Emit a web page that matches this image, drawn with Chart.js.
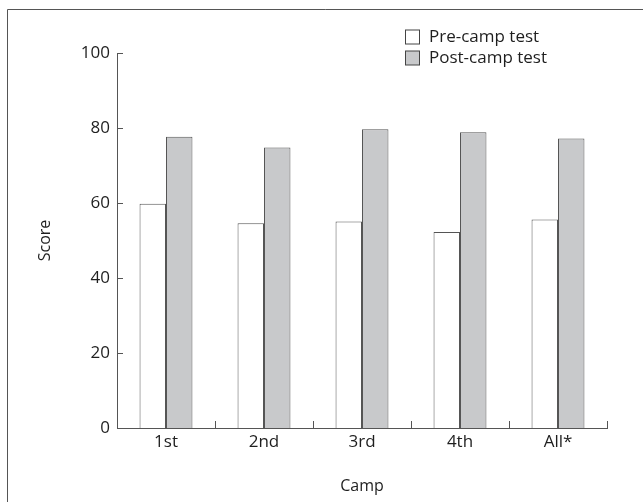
<!DOCTYPE html>
<html>
<head>
<meta charset="utf-8">
<script src="https://cdn.jsdelivr.net/npm/chart.js@4"></script>
<style>
  html, body { margin: 0; padding: 0; background: #fff; }
  #wrap { width: 643px; height: 502px; position: relative; }
</style>
</head>
<body>
<div id="wrap"><canvas id="chart"></canvas></div>
<script>
const camps = ['1st', '2nd', '3rd', '4th', 'All*'];
const preCamp = [59.8, 54.6, 55.1, 52.3, 55.6];
const postCamp = [77.7, 74.8, 79.7, 78.9, 77.2];
const yTicks = [0, 20, 40, 60, 80, 100];

const FONT = '"Open Sans", "Noto Sans", sans-serif';
const TEXT = '#1e1e1e';
const AXIS = '#555';

// frame, inward tick marks and the legend
const extras = {
  id: 'extras',
  afterDraw(chart) {
    const ctx = chart.ctx;
    const x = chart.scales.x, y = chart.scales.y;
    ctx.save();
    ctx.strokeStyle = AXIS;
    ctx.lineWidth = 1;

    // frame (left and top)
    ctx.beginPath();
    ctx.moveTo(7.5, chart.height);
    ctx.lineTo(7.5, 9.5);
    ctx.lineTo(chart.width, 9.5);
    ctx.stroke();

    // y ticks pointing inward
    ctx.beginPath();
    yTicks.forEach(v => {
      const py = Math.round(y.getPixelForValue(v)) + 0.5;
      ctx.moveTo(x.left, py);
      ctx.lineTo(x.left + 6, py);
    });
    // x ticks between categories, pointing up
    for (let i = 0; i < camps.length; i++) {
      const px = i < camps.length - 1
        ? (x.getPixelForValue(i) + x.getPixelForValue(i + 1)) / 2
        : x.right;
      const rx = Math.round(px) + 0.5;
      ctx.moveTo(rx, y.bottom);
      ctx.lineTo(rx, y.bottom - 7);
    }
    ctx.stroke();

    // legend
    ctx.font = '17px ' + FONT;
    ctx.textBaseline = 'middle';
    chart.data.datasets.forEach((ds, i) => {
      const cy = 37 + i * 21;
      ctx.fillStyle = ds.backgroundColor;
      ctx.fillRect(405.5, cy - 7, 14, 14);
      ctx.strokeStyle = '#444';
      ctx.strokeRect(405.5, cy - 7, 14, 14);
      ctx.fillStyle = TEXT;
      ctx.fillText(ds.label, 429, cy);
    });
    ctx.restore();
  }
};

new Chart(document.getElementById('chart'), {
  type: 'bar',
  data: {
    labels: camps,
    datasets: [
      {
        label: 'Pre-camp test',
        data: preCamp,
        backgroundColor: '#ffffff',
        borderColor: '#555',
        borderWidth: 1,
        categoryPercentage: 0.54,
        barPercentage: 1.0,
      },
      {
        label: 'Post-camp test',
        data: postCamp,
        backgroundColor: '#c8c9cb',
        borderColor: '#555',
        borderWidth: 1,
        categoryPercentage: 0.54,
        barPercentage: 1.0,
      },
    ],
  },
  options: {
    responsive: true,
    maintainAspectRatio: false,
    animation: false,
    layout: { padding: { left: 0, right: 36, top: 53, bottom: 0 } },
    plugins: {
      legend: { display: false },
      tooltip: { enabled: false },
    },
    scales: {
      x: {
        grid: { display: false, drawTicks: false },
        border: { display: true, color: AXIS, width: 1 },
        ticks: { color: TEXT, font: { family: FONT, size: 17 }, padding: 4 },
        title: {
          display: true,
          text: 'Camp',
          color: TEXT,
          font: { family: FONT, size: 16 },
          padding: { top: 0, bottom: 6 },
        },
        afterFit(scale) { scale.height = 74; },
      },
      y: {
        min: 0,
        max: 100,
        afterBuildTicks(scale) { scale.ticks = yTicks.map(v => ({ value: v })); },
        grid: { display: false, drawTicks: false },
        border: { display: true, color: AXIS, width: 1 },
        ticks: { color: TEXT, font: { family: FONT, size: 17 }, padding: 7 },
        title: {
          display: true,
          text: 'Score',
          color: TEXT,
          font: { family: FONT, size: 16 },
          padding: { top: 36, bottom: 0 },
        },
        afterFit(scale) { scale.width = 117; },
      },
    },
  },
  plugins: [extras],
});
</script>
</body>
</html>
